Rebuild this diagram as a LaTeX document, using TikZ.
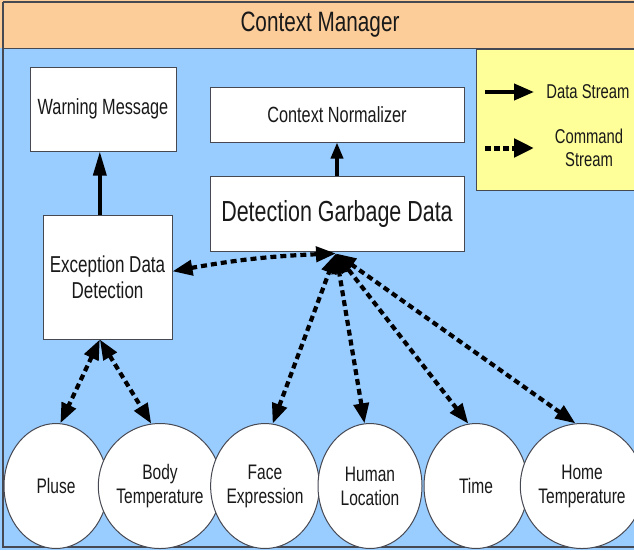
\documentclass[tikz,border=0pt]{standalone}
\usepackage{fontspec}
\setmainfont{Liberation Sans}[FakeStretch=0.74]
\usetikzlibrary{arrows.meta,shapes.geometric,calc}
\definecolor{headerorange}{RGB}{252,204,153}
\definecolor{panelblue}{RGB}{153,204,255}
\definecolor{legendyellow}{RGB}{255,255,153}
\definecolor{edgegray}{RGB}{70,72,82}
\definecolor{inkgray}{RGB}{25,25,25}

\begin{document}
\begin{tikzpicture}[x=1pt,y=-1pt,
  box/.style={draw=edgegray, line width=1pt, fill=white, inner sep=0pt,
    align=center, text=inkgray},
  sensor/.style={ellipse, draw=edgegray, line width=1pt, fill=white,
    minimum width=104pt, minimum height=125pt, inner sep=0pt, align=center,
    text=inkgray, font=\fontsize{21}{24}\selectfont},
  datastream/.style={line width=3.5pt, -{Triangle[length=24pt,width=13pt]}},
  cmdstream/.style={line width=4.2pt, dash pattern=on 6pt off 4pt,
    {Triangle[length=20pt,width=15pt]}-{Triangle[length=20pt,width=15pt]}},
]
\useasboundingbox (0,0) rectangle (634,550);

% frame: header band and main panel
\fill[panelblue] (0,48) rectangle (634,550);
\fill[headerorange] (0,0) rectangle (634,48);
\draw[edgegray, line width=1.5pt] (3,2) -- (640,2);
\draw[edgegray, line width=1.5pt] (3,2) -- (3,547) -- (640,547);
\draw[edgegray, line width=1pt] (3,48) -- (640,48);
\node[text=inkgray, font=\fontsize{28}{32}\selectfont] (title) at (320,25) {Context Manager};

% legend
\node[draw=edgegray, line width=1pt, fill=legendyellow, minimum width=164pt,
  minimum height=141pt, inner sep=0pt] (legend) at (558,119.5) {};
\coordinate (ds0) at (485,92);
\coordinate (ds1) at (534,92);
\draw[line width=4pt, -{Triangle[length=20pt,width=16pt]}] (ds0) -- (ds1);
\node[text=inkgray, font=\fontsize{20}{23}\selectfont] (dslabel) at (588,92) {Data Stream};
\coordinate (cs0) at (485,148);
\coordinate (cs1) at (534,148);
\draw[line width=5pt, dash pattern=on 6pt off 3pt,
  -{Triangle[length=20pt,width=18pt]}] (cs0) -- (cs1);
\node[text=inkgray, font=\fontsize{20}{23}\selectfont, align=center] (cslabel)
  at (589,148) {Command\\Stream};

% processing boxes
\node[box, minimum width=146pt, minimum height=84pt,
  font=\fontsize{22}{26}\selectfont] (warn) at (103,109) {Warning Message};
\node[box, minimum width=254pt, minimum height=55pt,
  font=\fontsize{22}{26}\selectfont] (cn) at (337,114.5) {Context Normalizer};
\node[box, minimum width=254pt, minimum height=75pt,
  font=\fontsize{29}{32}\selectfont] (dgd) at (337,213.5) {Detection Garbage Data};
\node[box, minimum width=129pt, minimum height=124pt,
  font=\fontsize{23}{26}\selectfont] (exc) at (107.5,277) {Exception Data\\Detection};

% sensor sources
\node[sensor] (pluse) at (56,486) {Pluse};
\node[sensor] (body)  at (160,486) {Body\\Temperature};
\node[sensor] (face)  at (265,486) {Face\\Expression};
\node[sensor] (human) at (370,486) {Human\\Location};
\node[sensor] (time)  at (476,486) {Time};
\node[sensor] (home)  at (582,486) {Home\\Temperature};

% data streams
\draw[datastream] (exc.97) -- (exc.97 |- warn.south);
\draw[line width=3.5pt, -{Triangle[length=16pt,width=12pt]}] (dgd.north) -- (cn.south);

% command streams
\coordinate (hub) at ($(dgd.south)+(-1,2)$);
\draw[cmdstream] (exc.5) to[bend left=4] (hub);
\draw[cmdstream] (face.83) -- (hub);
\draw[cmdstream] (human.95) -- (hub);
\draw[cmdstream] (time.97) -- (hub);
\draw[cmdstream] (home.96) -- (hub);
\draw[cmdstream] (exc.-97) -- (pluse.86);
\draw[cmdstream] (exc.-97) -- (body.98);
\end{tikzpicture}
\end{document}
